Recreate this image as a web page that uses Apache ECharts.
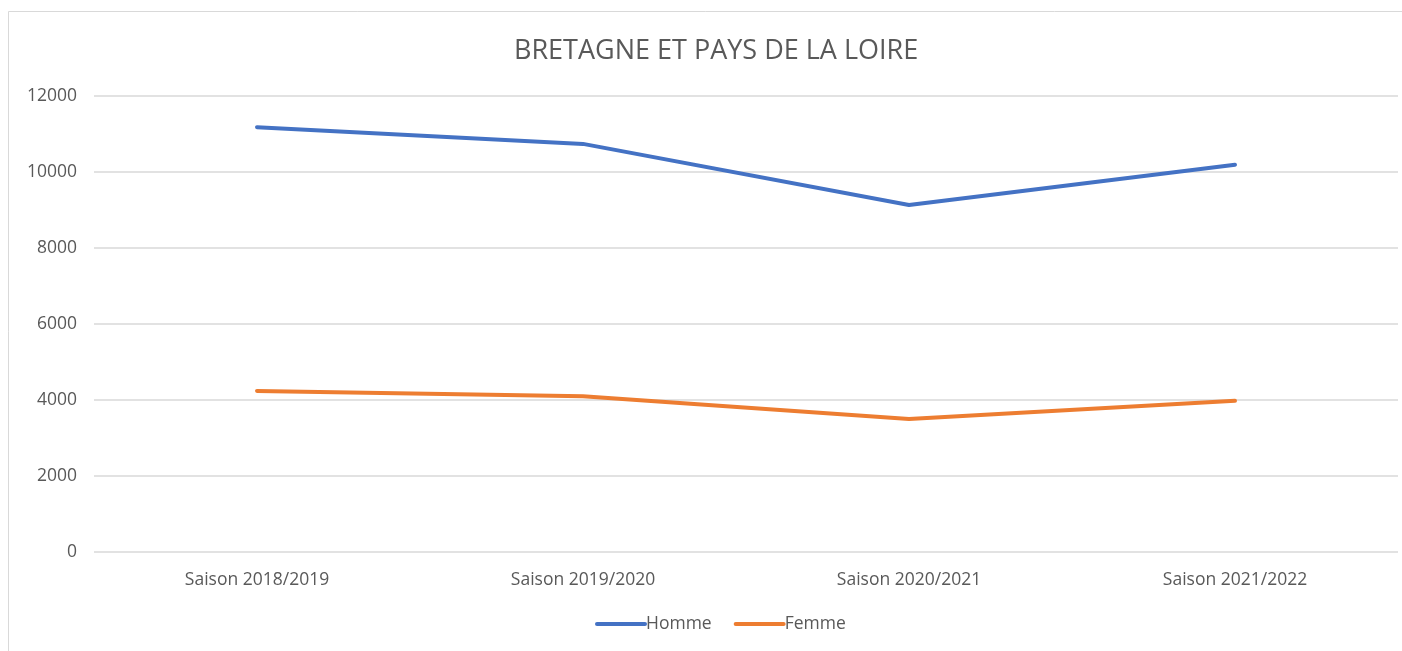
<!DOCTYPE html>
<html>
<head>
<meta charset="utf-8">
<script src="https://cdn.jsdelivr.net/npm/echarts@6/dist/echarts.min.js"></script>
<style>
  html, body { margin: 0; padding: 0; background: #fff; }
  #chart { width: 1402px; height: 651px; }
</style>
</head>
<body>
<div id="chart"></div>
<script>
  // saisons
  const categories = ['Saison 2018/2019', 'Saison 2019/2020', 'Saison 2020/2021', 'Saison 2021/2022']
  const homme = [11180, 10740, 9130, 10190]
  const femme = [4240, 4100, 3500, 3980]
  const yTicks = { min: 0, max: 12000, interval: 2000 }

  const txt = '#595959'
  const font = 'Open Sans'

  const chart = echarts.init(document.getElementById('chart'))
  chart.setOption({
    backgroundColor: '#fff',
    animation: false,
    graphic: [{
      type: 'rect',
      shape: { x: 8.5, y: 11.5, width: 1400, height: 660 },
      style: { fill: 'none', stroke: '#d9d9d9', lineWidth: 1 },
      silent: true
    }],
    title: {
      text: 'BRETAGNE ET PAYS DE LA LOIRE',
      left: 509,
      top: 33,
      textStyle: { color: txt, fontSize: 27, fontWeight: 'normal', fontFamily: font }
    },
    legend: {
      bottom: 13,
      left: 590,
      itemWidth: 48,
      itemHeight: 4,
      itemGap: 22,
      lineStyle: { width: 4, cap: 'round' },
      textStyle: { color: txt, fontSize: 17.5, fontFamily: font, padding: [0, 0, 0, -4] },
      data: ['Homme', 'Femme']
    },
    grid: { left: 94, right: 4, top: 96, bottom: 99 },
    xAxis: {
      type: 'category',
      data: categories,
      axisLine: { show: false },
      axisTick: { show: false },
      axisLabel: { color: txt, fontSize: 17.5, fontFamily: font, margin: 19 }
    },
    yAxis: {
      type: 'value',
      min: yTicks.min,
      max: yTicks.max,
      interval: yTicks.interval,
      axisLabel: { color: txt, fontSize: 17.5, fontFamily: font, margin: 17, formatter: v => String(v) },
      splitLine: { lineStyle: { color: '#d9d9d9', width: 1.5 } }
    },
    series: [
      {
        name: 'Homme',
        type: 'line',
        data: homme,
        symbol: 'none',
        color: '#4472c4',
        lineStyle: { width: 4, cap: 'round', join: 'round' }
      },
      {
        name: 'Femme',
        type: 'line',
        data: femme,
        symbol: 'none',
        color: '#ed7d31',
        lineStyle: { width: 4, cap: 'round', join: 'round' }
      }
    ]
  })
</script>
</body>
</html>
